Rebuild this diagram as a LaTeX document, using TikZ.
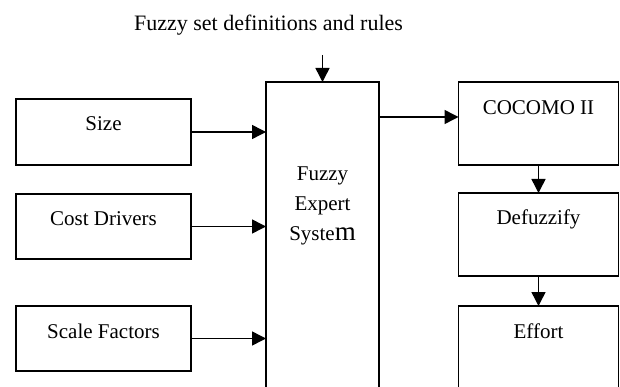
\documentclass[tikz,border=0pt]{standalone}
\usepackage{fontspec}
\setmainfont{Liberation Serif}
\usetikzlibrary{arrows.meta}
\begin{document}
\begin{tikzpicture}[x=1pt,y=-1pt,
  box/.style={draw, line width=1.4pt, inner sep=0pt, outer sep=0pt},
  lbl/.style={font=\fontsize{21}{30}\selectfont, inner sep=0pt, align=center},
  arr/.style={line width=1.5pt, -{Triangle[length=14pt,width=14pt]}}]
\path[use as bounding box] (0,0) rectangle (620,387);
\clip (0,0) rectangle (620,387);
\node[font=\fontsize{22}{26}\selectfont, inner sep=0pt] (title) at (268.5,25) {Fuzzy set definitions and rules};
\coordinate (topin) at (322.5,55);
% big box
\node[box, minimum width=113pt, minimum height=400pt] (fes) at (322.5,282) {};
\node[lbl] (festxt) at (322.5,206) {Fuzzy\\Expert\\Syste{\fontsize{27}{30}\selectfont m}};
% left boxes
\node[box, minimum width=175pt, minimum height=66pt] (size) at (103.5,132) {};
\node[lbl] (sizetxt) at (103.5,124) {Size};
\node[box, minimum width=175pt, minimum height=65pt] (cost) at (103.5,226.5) {};
\node[lbl] (costtxt) at (103.5,219) {Cost Drivers};
\node[box, minimum width=175pt, minimum height=65pt] (scale) at (103.5,338.5) {};
\node[lbl] (scaletxt) at (103.5,331) {Scale Factors};
% right boxes
\node[box, minimum width=160pt, minimum height=83pt] (cocomo) at (538.5,123.5) {};
\node[lbl] (cocomotxt) at (538.5,108) {COCOMO II};
\node[box, minimum width=160pt, minimum height=83pt] (defuzz) at (538.5,234.5) {};
\node[lbl] (defuzztxt) at (538.5,219) {Defuzzify};
\node[box, minimum width=160pt, minimum height=114pt] (effort) at (538.5,363) {};
\node[lbl] (efforttxt) at (538.5,331) {Effort};
% connectors
\draw[arr] (topin) -- (fes.north);
\draw[arr] (size.east) -- (size.east -| fes.west);
\draw[arr] (cost.east) -- (cost.east -| fes.west);
\draw[arr] (scale.east) -- (scale.east -| fes.west);
\draw[arr] (fes.east |- 0,117) -- (cocomo.west |- 0,117);
\draw[arr] (cocomo.south) -- (defuzz.north);
\draw[arr] (defuzz.south) -- (effort.north);
\end{tikzpicture}
\end{document}
